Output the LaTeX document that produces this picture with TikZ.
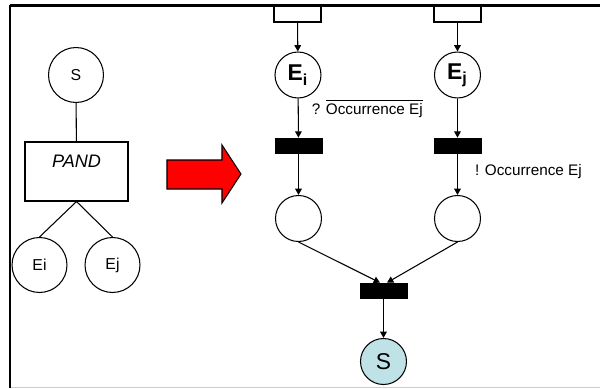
\documentclass[tikz,border=0pt]{standalone}
\usepackage{fontspec}
\setmainfont{Liberation Sans}
\usepackage{tikz}
\usetikzlibrary{arrows.meta, positioning}
\definecolor{placeblue}{RGB}{190,226,230}

\begin{document}
\begin{tikzpicture}[
      x=0.02cm, y=-0.02cm,
      ftnode/.style={
          draw,
          circle,
          minimum size=1.1cm,
          inner sep=0pt,
          font=\fontsize{9}{10}\selectfont,
          line width=0.6pt
      },
      gate/.style={
          draw,
          minimum width=2.06cm,
          minimum height=1.18cm,
          line width=0.6pt
      },
      place/.style={
          draw,
          circle,
          minimum size=0.92cm,
          inner sep=0pt,
          font=\fontsize{13}{15}\selectfont,
          line width=0.6pt
      },
      trans/.style={draw, fill=black, minimum width=0.94cm, minimum height=0.3cm, inner sep=0pt},
      pre/.style={draw, fill=white, minimum width=0.94cm, minimum height=0.32cm, inner sep=0pt, line width=0.6pt},
      arc/.style={-{Triangle[length=3.6pt, width=3.8pt]}, line width=0.6pt},
      link/.style={line width=0.6pt},
      lbl/.style={font=\fontsize{8.7}{10}\selectfont, inner sep=0pt}
  ]
  \useasboundingbox (0,0) rectangle (600,389);

  % ══════════════════════════════
  % CADRE
  % ══════════════════════════════
  \draw[gray!40, line width=0.6pt] (10,387.5) -- (600,387.5);
  \draw[line width=1.2pt] (10,5.5) -- (600,5.5);
  \draw[line width=1.7pt] (10,5) -- (10,388);

  % ══════════════════════════════
  % ARBRE DE DÉFAILLANCE (gauche)
  % ══════════════════════════════
  \node[ftnode] (top) at (76,75) {S};

  \node[gate, label={[inner sep=0pt, anchor=center, yshift=-0.4cm,
        font=\fontsize{10.3}{12}\selectfont\itshape]north:PAND}] (pand) at (76.5,171.5) {};

  \node[ftnode] (ei) at (39.5,265) {Ei};
  \node[ftnode] (ej) at (112.5,265) {Ej};

  \draw[link] (top) -- (pand);
  \draw[link] (pand.south) -- (ei.north);
  \draw[link] (pand.south) -- (ej.north);

  % ══════════════════════════════
  % FLÈCHE DE TRADUCTION
  % ══════════════════════════════
  \draw[fill=red, line width=0.6pt]
      (167,160) -- (222,160) -- (222,145) -- (241,174)
      -- (222,203) -- (222,189) -- (167,189) -- cycle;

  % ══════════════════════════════
  % RÉSEAU DE PETRI (droite)
  % ══════════════════════════════
  \node[pre] (prei) at (297.5,14) {};
  \node[pre] (prej) at (457.5,14) {};

  \node[place] (pei) at (298,75) {\textbf{E\textsubscript{i}}};
  \node[place] (pej) at (457.5,75) {\textbf{E\textsubscript{j}}};

  \node[trans] (ti) at (298.5,145.5) {};
  \node[trans] (tj) at (457.5,145.5) {};

  \node[place] (pi) at (298.5,218.5) {};
  \node[place] (pj) at (457.5,218.5) {};

  \node[trans] (tand) at (383.5,290.5) {};

  \node[place, fill=placeblue] (ps) at (383.5,361.5) {S};

  % ══════════════════════════════
  % ARCS
  % ══════════════════════════════
  \draw[arc] (prei) -- (pei);
  \draw[arc] (prej) -- (pej);

  \draw[arc] (pei) -- node[lbl, anchor=base west, pos=0.4, xshift=0.26cm]
      {? $\overline{\mbox{Occurrence Ej}}$} (ti);
  \draw[arc] (pej) -- (tj);

  \draw[arc] (ti) -- (pi);
  \draw[arc] (tj) -- node[lbl, anchor=base west, pos=0.54, xshift=0.34cm]
      {! Occurrence Ej} (pj);

  \draw[arc] (pi.south) -- ([xshift=-0.07cm]tand.north);
  \draw[arc] (pj.south) -- ([xshift=0.07cm]tand.north);

  \draw[arc] (tand) -- (ps);

  \end{tikzpicture}
\end{document}
